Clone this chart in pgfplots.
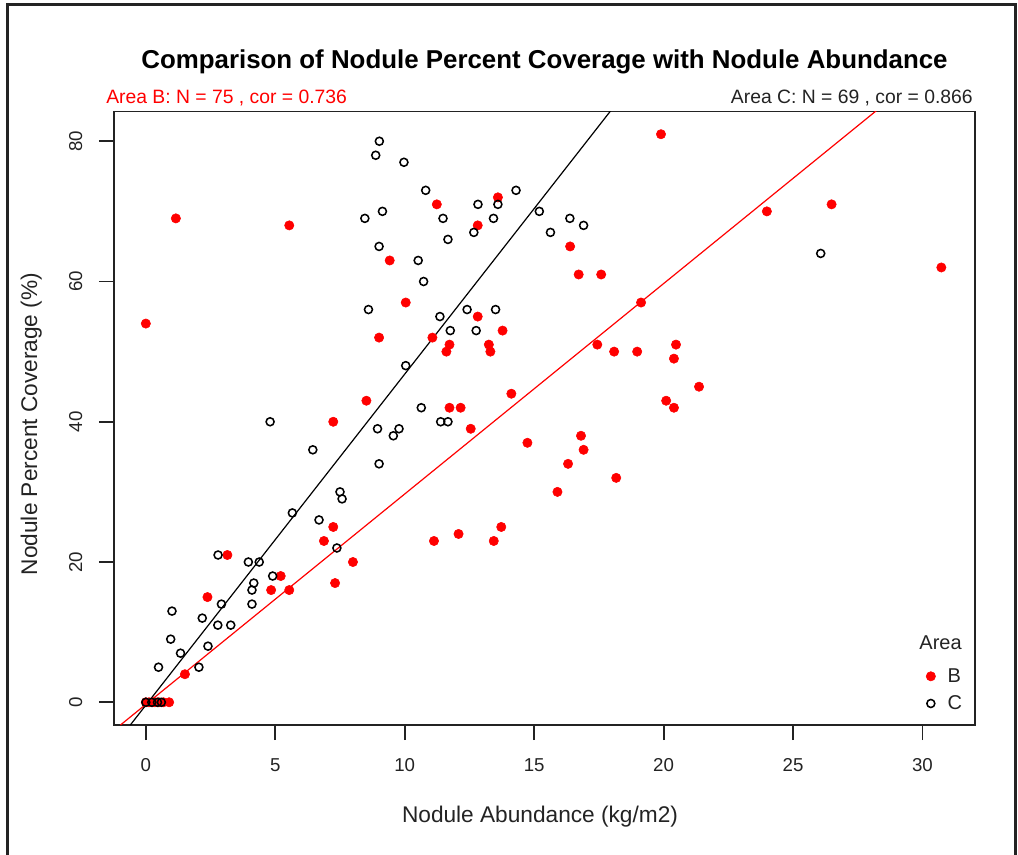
\documentclass[border=0pt]{standalone}
\usepackage{fontspec}
\setmainfont{Liberation Sans}
\usepackage{pgfplots}
\pgfplotsset{compat=1.18}
\definecolor{rred}{RGB}{255,0,0}
\definecolor{ink}{RGB}{35,35,35}
\begin{document}
\begin{tikzpicture}
\useasboundingbox (0pt,0pt) rectangle (763.5pt,640.5pt);
\draw[ink, line width=1.6pt] (5.625pt,-3pt) -- (5.625pt,637.125pt) -- (761.625pt,637.125pt) -- (761.625pt,-3pt);
\begin{axis}[
  at={(85.5pt,96.75pt)}, anchor=south west,
  scale only axis, width=645.75pt, height=460.125pt,
  xmin=-1.23, xmax=32.03, ymin=-3.24, ymax=84.24,
  xtick={0,5,10,15,20,25,30}, ytick={0,20,40,60,80},
  axis line style={ink, line width=1.4pt},
  tick style={ink, line width=1.4pt},
  major tick length=11.25pt,
  tick align=outside,
  xtick pos=bottom, ytick pos=left,
  /pgf/number format/assume math mode=true,
  ticklabel style={font=\fontsize{14}{16}\selectfont, text=ink},
  xticklabel style={yshift=-10.5pt},
  yticklabel style={xshift=-9pt, rotate=90, anchor=south},
  legend style={draw=none, fill=none, at={(0.943,0.097)}, anchor=north west,
    font=\fontsize{15}{18}\selectfont, text=ink, inner sep=0pt, row sep=4.5pt,
    /tikz/every odd column/.append style={column sep=7pt}},
  legend cell align=left,
]
\addplot[only marks, mark=*, mark size=3.5pt, color=rred, mark options={draw=rred, fill=rred}] coordinates {
(0.00,54) (1.16,69) (5.54,68) (0.00,0) (0.12,0) (0.35,0) (0.68,0) (0.90,0) (0.50,0) (0.25,0)
(1.51,4) (2.38,15) (3.15,21) (4.84,16) (5.21,18) (5.54,16) (6.88,23) (7.24,25) (7.31,17) (8.00,20)
(7.24,40) (8.52,43) (9.01,52) (9.42,63) (10.04,57) (11.07,52) (11.24,71) (11.73,51) (11.61,50)
(11.73,42) (12.16,42) (12.55,39) (12.82,68) (12.82,55) (13.25,51) (13.31,50) (13.60,72) (13.78,53)
(14.12,44) (11.13,23) (12.08,24) (13.44,23) (13.73,25) (14.74,37) (15.90,30) (16.31,34) (16.81,38)
(16.91,36) (16.39,65) (16.72,61) (17.59,61) (17.44,51) (18.09,50) (18.17,32) (18.98,50) (19.13,57)
(19.90,81) (20.10,43) (20.40,42) (20.40,49) (20.48,51) (21.37,45) (23.99,70) (26.49,71) (30.73,62)
};
\addlegendentry{B}
\addplot[only marks, mark=o, mark size=3.0pt, color=black, mark options={line width=1.15pt}] coordinates {
(9.02,80) (8.88,78) (9.97,77) (10.81,73) (12.83,71) (13.60,71) (14.30,73) (8.46,69) (9.14,70)
(11.48,69) (13.43,69) (12.67,67) (11.67,66) (15.20,70) (16.38,69) (16.91,68) (15.63,67) (9.01,65)
(10.52,63) (10.73,60) (8.60,56) (11.36,55) (12.41,56) (13.51,56) (11.76,53) (12.76,53) (10.04,48)
(10.64,42) (11.39,40) (11.67,40) (8.95,39) (9.78,39) (9.56,38) (9.01,34) (7.50,30) (7.58,29)
(7.38,22) (5.66,27) (6.69,26) (2.79,21) (3.96,20) (4.38,20) (4.90,18) (4.17,17) (4.10,16)
(4.10,14) (2.92,14) (1.01,13) (2.18,12) (2.78,11) (3.28,11) (0.96,9) (2.40,8) (1.34,7)
(0.49,5) (2.05,5) (4.80,40) (6.45,36) (26.07,64) (0.00,0) (0.23,0) (0.45,0) (0.60,0)
};
\addlegendentry{C}
\addplot[rred, line width=0.9pt, forget plot] coordinates {(-0.98,-3.24) (28.3,84.6)};
\addplot[black, line width=0.9pt, forget plot] coordinates {(-0.6,-3.24) (18.0,84.55)};
\end{axis}
\node[anchor=base, inner sep=0pt, font=\fontsize{19.4}{23}\selectfont\bfseries, text=black] at (408.375pt,588.75pt) {Comparison of Nodule Percent Coverage with Nodule Abundance};
\node[anchor=base west, inner sep=0pt, text=rred, font=\fontsize{14.5}{17}\selectfont] at (79.5pt,562.5pt) {Area B: N = 75 , cor = 0.736};
\node[anchor=base east, inner sep=0pt, text=ink, font=\fontsize{14.5}{17}\selectfont] at (729.75pt,562.5pt) {Area C: N = 69 , cor = 0.866};
\node[anchor=base, inner sep=0pt, text=ink, font=\fontsize{17}{20}\selectfont] at (405pt,24pt) {Nodule Abundance (kg/m2)};
\node[rotate=90, anchor=base, inner sep=0pt, text=ink, font=\fontsize{17}{20}\selectfont] at (27.75pt,322.5pt) {Nodule Percent Coverage (\%)};
\node[anchor=base, inner sep=0pt, text=ink, font=\fontsize{15}{18}\selectfont] at (705.4pt,153pt) {Area};
\end{tikzpicture}
\end{document}
